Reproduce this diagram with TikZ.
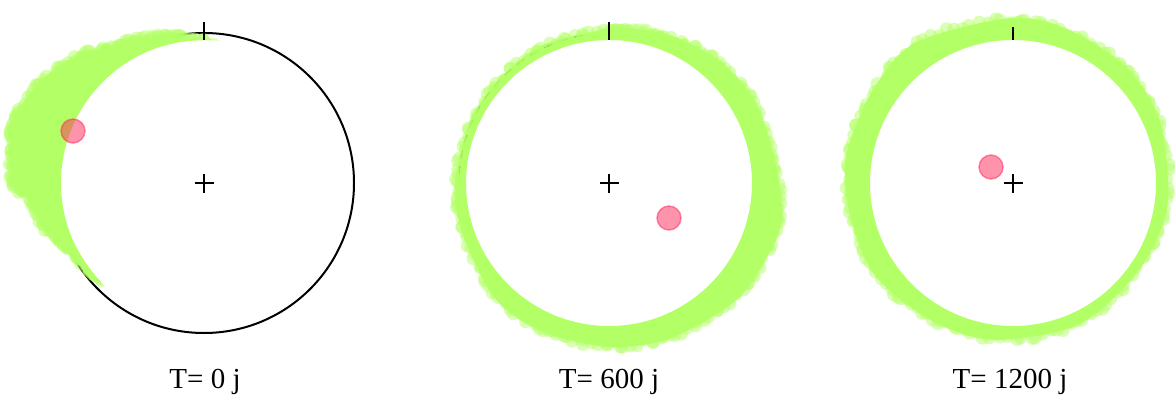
\documentclass[tikz,border=0pt]{standalone}
\usepackage{fontspec}
\setmainfont{Liberation Serif}
\definecolor{gcol}{RGB}{179,255,102}
\definecolor{rcol}{RGB}{255,40,90}
\tikzset{
  blob/.style={fill=gcol, fill opacity=0.5},
  body/.style={fill=gcol},
  orbit/.style={line width=2pt},
  tickline/.style={line width=1.2pt},
  cross/.style={line width=1.5pt},
  planet/.style={circle, inner sep=0pt, minimum size=24pt, fill=rcol, fill opacity=0.5, draw=rcol, draw opacity=0.5, line width=1.5pt},
  lbl/.style={font=\fontsize{29}{35}\selectfont, anchor=base, inner sep=0pt},
  streak/.style={line width=1.2pt, black, opacity=0.35, dash pattern=on 9pt off 7pt},
}
\newcommand\blobprofile[1]{%
  \foreach \a/\ra/\b/\rb in {#1}{%
    \foreach \t in {0,...,11}{%
      \pgfmathsetmacro\ang{\a+(\b-\a)*\t/12+1.2*rand}%
      \pgfmathsetmacro\rr{\ra+(\rb-\ra)*\t/12-6+3*rand}%
      \fill[blob, nonzero rule] (\ang:\rr) circle[radius=6.5];
    }%
  }%
}
\begin{document}
\begin{tikzpicture}[x=1pt,y=1pt]
\useasboundingbox (0,0) rectangle (1175,400);
\pgfmathsetseed{7}
\coordinate (c1) at (204,217);
\coordinate (c2) at (609,217);
\coordinate (c3) at (1013,217);

% ---------- panel 1 ----------
\begin{scope}[shift={(c1)}]
  \draw[orbit] (0,0) circle[radius=150];
  \begin{scope}[even odd rule]
    \clip (0,0) circle[radius=260] (0,0) circle[radius=143];
    \fill[body] plot[smooth] coordinates {(90:143) (100:147) (106:151) (115:158) (124:164) (133:178) (146:191) (159:200) (164:200) (172:196) (180:192) (186:175) (195:166) (201:156) (207:148) (213:145) (218:143)}
      arc[start angle=218, end angle=90, radius=143] -- cycle;
    \blobprofile{86/144/100/153, 100/153/106/157, 106/157/115/163, 115/163/124/169, 124/169/133/182, 133/182/146/195, 146/195/159/204, 159/204/164/204, 164/204/172/200, 172/200/180/196, 180/196/186/178, 186/178/195/170, 195/170/201/161, 201/161/207/154, 207/154/213/150, 213/150/219/148, 219/148/224/145}
  \end{scope}
  \draw[tickline] (0,143) -- (0,161);
  \draw[cross] (-9.5,0) -- (9.5,0) (0,-9.5) -- (0,9.5);
  \node[planet] (p1) at (-131,52) {};
\end{scope}

% ---------- panel 2 ----------
\begin{scope}[shift={(c2)}]
  \begin{scope}[even odd rule]
    \clip (0,0) circle[radius=260] (0,0) circle[radius=143];
    \fill[body] plot[smooth cycle] coordinates {(9:167) (29:167) (47:165) (67:160) (83:156) (91:154) (116:153) (137:151) (156:152) (180:154) (199:155) (225:162) (245:163) (270:164) (292:167) (318:173) (338:175) (350:176)};
    \draw[streak] (100:150) arc[start angle=100, end angle=178, radius=150];
    \blobprofile{9/170/29/170, 29/170/47/168, 47/168/67/163, 67/163/83/159, 83/159/91/157, 91/157/116/156, 116/156/137/154, 137/154/156/155, 156/155/180/157, 180/157/199/158, 199/158/225/165, 225/165/245/166, 245/166/270/167, 270/167/292/170, 292/170/318/176, 318/176/338/178, 338/178/350/179, 350/179/369/170}
  \end{scope}
  \draw[tickline] (0,143) -- (0,161);
  \draw[cross] (-9.5,0) -- (9.5,0) (0,-9.5) -- (0,9.5);
  \node[planet] (p2) at (60,-35) {};
\end{scope}

% ---------- panel 3 ----------
\begin{scope}[shift={(c3)}]
  \begin{scope}[even odd rule]
    \clip (0,0) circle[radius=260] (0,0) circle[radius=143];
    \fill[body] plot[smooth cycle] coordinates {(22:159) (45:162) (70:163) (91:165) (125:171) (147:168) (171:169) (192:166) (214:166) (239:160) (263:158) (295:156) (325:153) (351:156)};
    \blobprofile{22/162/45/165, 45/165/70/166, 70/166/91/168, 91/168/125/174, 125/174/147/171, 147/171/171/172, 171/172/192/169, 192/169/214/169, 214/169/239/163, 239/163/263/161, 263/161/295/159, 295/159/325/156, 325/156/351/159, 351/159/382/162}
  \end{scope}
  \draw[tickline] (0,143) -- (0,156);
  \draw[cross] (-9.5,0) -- (9.5,0) (0,-9.5) -- (0,9.5);
  \node[planet] (p3) at (-22,16) {};
\end{scope}

% ---------- labels ----------
\node[lbl] (l1) at (205,12) {T= 0 j};
\node[lbl] (l2) at (609,12) {T= 600 j};
\node[lbl] (l3) at (1010,12) {T= 1200 j};
\end{tikzpicture}
\end{document}
